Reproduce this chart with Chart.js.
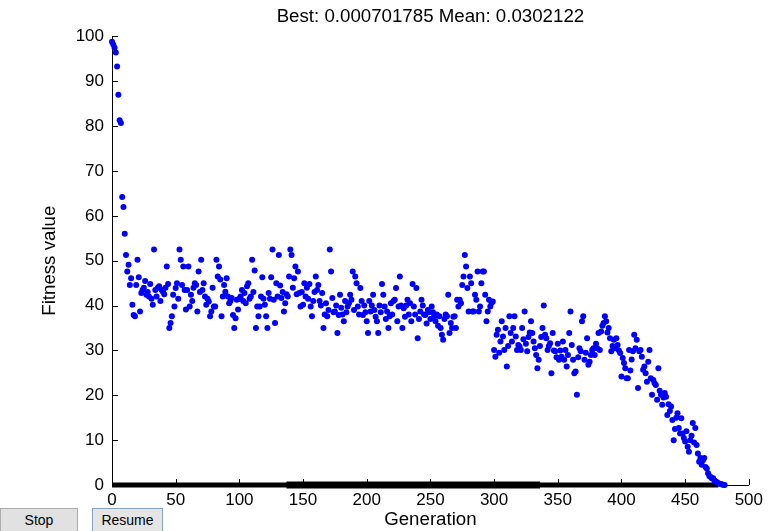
<!DOCTYPE html>
<html>
<head>
<meta charset="utf-8">
<title>GA fitness plot</title>
<script src="https://cdn.jsdelivr.net/npm/chart.js@4/dist/chart.umd.min.js"></script>
<style>
    html, body { margin: 0; padding: 0; background: #fff; }
    #wrap { position: relative; width: 768px; height: 531px; overflow: hidden; }
    #plot { position: absolute; left: 0; top: 0; }
    .btn {
        position: absolute;
        top: 508px;
        height: 26px;
        font: 14px "Liberation Sans", Arial, sans-serif;
        color: #000;
        background: #e1e1e1;
        border: 1px solid #adadad;
        box-sizing: border-box;
        text-align: center;
        line-height: 23px;
    }
    #btn-stop { left: 0; width: 78px; }
    #btn-resume { left: 92px; width: 71px; background: #e5e5e5; border-color: #8aa2c2; }
</style>
</head>
<body>
<div id="wrap">
    <canvas id="plot" width="768" height="531"></canvas>
    <div class="btn" id="btn-stop">Stop</div>
    <div class="btn" id="btn-resume">Resume</div>
</div>
<script>
// Mean fitness per generation (blue dots), generation 0 .. 481
const meanFitness = [
    98.8, 98.2, 97.5, 96.4, 93.3, 87.0, 81.3, 80.7, 64.2, 62.0, 56.0, 51.3, 47.6, 49.1,
    44.6, 46.1, 40.2, 37.9, 37.6, 44.6,
    50.2, 46.3, 38.7, 42.8, 43.5, 44.0, 45.5, 42.4, 43.0, 42.0,
    44.8, 41.5, 40.2, 52.5, 43.5, 42.0, 44.0, 44.3, 41.0, 43.5,
    43.1, 42.5, 44.0, 48.7, 44.8, 35.0, 36.1, 37.6, 42.4, 39.8,
    43.9, 45.0, 41.5, 52.5, 50.2, 44.6, 48.7, 43.5, 39.1, 43.5,
    48.7, 39.8, 42.4, 41.0, 44.0, 45.0, 44.6, 38.7, 47.6, 43.0,
    50.2, 43.5, 45.0, 42.0, 40.2, 41.5, 40.9, 37.6, 38.7, 44.0,
    39.8, 39.8, 50.2, 46.5, 48.7, 45.8, 37.6, 42.0, 44.6, 43.1,
    46.1, 42.0, 40.5, 41.0, 41.7, 37.9, 35.0, 37.2, 41.3, 39.1,
    41.5, 42.0, 43.5, 41.0, 42.8, 40.5, 44.3, 45.0, 41.5, 42.0,
    50.2, 43.0, 47.8, 35.0, 39.8, 37.6, 39.8, 42.0, 46.3, 41.5,
    40.2, 37.6, 35.0, 42.8, 41.5, 46.3, 52.5, 41.3, 36.1, 45.0,
    42.0, 51.3, 44.5, 41.7, 43.0, 38.7, 40.5, 42.5, 42.0, 46.5,
    52.5, 51.3, 44.0, 46.1, 48.7, 42.5, 47.6, 42.8, 39.8, 43.0,
    40.2, 45.0, 42.0, 44.0, 41.5, 44.8, 39.8, 37.6, 41.0, 43.0,
    46.5, 43.5, 44.6, 41.0, 40.0, 42.8, 35.0, 38.0, 40.5, 37.6,
    39.0, 52.5, 47.6, 41.7, 38.5, 38.7, 40.0, 33.9, 37.9, 42.4,
    39.5, 38.0, 36.5, 41.0, 38.5, 39.8, 40.5, 42.4, 41.3, 47.6,
    39.0, 46.5, 45.0, 39.8, 38.0, 43.9, 41.0, 37.9, 40.0, 38.5,
    36.5, 33.9, 41.0, 38.7, 40.0, 42.4, 39.0, 37.5, 36.5, 33.9,
    40.0, 38.5, 44.8, 42.4, 39.8, 37.0, 38.7, 35.0, 37.6, 40.5,
    38.0, 41.0, 41.3, 43.9, 36.5, 39.8, 46.5, 40.0, 35.0, 39.4,
    37.5, 40.0, 41.3, 38.0, 40.5, 36.5, 44.8, 39.8, 38.0, 43.9,
    32.7, 37.0, 38.7, 41.3, 40.0, 38.0, 37.9, 36.0, 39.0, 38.5,
    37.0, 39.8, 38.5, 37.6, 36.5, 38.0, 35.5, 37.6, 35.0, 33.5,
    32.4, 37.0, 38.0, 37.6, 42.4, 33.9, 36.1, 35.0, 37.5, 37.6,
    35.0, 41.3, 39.8, 41.3, 40.5, 44.6, 46.5, 51.3, 48.7, 43.9,
    38.7, 46.5, 45.0, 38.7, 38.7, 42.4, 41.3, 47.6, 38.7, 39.8,
    45.0, 47.6, 47.6, 42.4, 36.5, 38.7, 41.3, 39.8, 40.6, 40.9,
    30.1, 28.6, 33.5, 34.6, 29.5, 32.0, 36.5, 33.1, 30.1, 35.0,
    26.4, 31.0, 37.6, 33.9, 32.0, 35.0, 37.6, 33.1, 30.1, 31.2,
    30.9, 30.1, 35.0, 32.5, 38.7, 31.5, 29.8, 33.0, 34.0, 36.5,
    33.9, 32.0, 30.5, 29.0, 26.0, 27.9, 31.0, 33.0, 35.0, 40.0,
    33.5, 32.7, 30.1, 31.0, 31.6, 24.9, 33.9, 30.0, 29.8, 28.5,
    31.5, 27.9, 30.0, 28.6, 32.0, 27.9, 30.1, 26.4, 29.0, 33.9,
    38.7, 31.2, 27.9, 24.9, 25.3, 20.1, 28.5, 30.5, 29.8, 36.5,
    37.6, 27.9, 29.5, 32.7, 26.8, 27.5, 29.0, 30.1, 30.5, 29.0,
    31.5, 30.5, 33.9, 30.1, 34.2, 35.5, 36.1, 37.6, 36.5, 34.0,
    35.0, 32.7, 29.8, 31.0, 32.4, 30.5, 32.7, 31.2, 30.0, 29.4,
    24.2, 28.3, 27.2, 26.0, 23.8, 23.8, 30.1, 25.5, 28.0, 29.8,
    33.5, 30.5, 32.4, 21.6, 29.8, 30.1, 28.6, 25.7, 26.4, 24.9,
    23.0, 27.5, 30.1, 23.8, 20.1, 23.4, 22.7, 22.3, 19.0, 26.0,
    21.0, 20.1, 17.9, 19.5, 20.5, 19.7, 15.6, 18.0, 16.5, 17.5,
    14.5, 10.0, 12.5, 15.0, 16.0, 12.7, 11.5, 14.9, 11.5, 10.5,
    9.7, 12.0, 8.5, 7.4, 10.0, 11.0, 13.8, 9.5, 12.7, 8.9,
    7.0, 5.2, 6.0, 4.5, 5.5, 6.0, 4.0, 3.7, 2.6, 2.0,
    1.8, 1.5, 1.5, 1.0, 0.8, 0.6, 0.4, 0.3, 0.2, 0.1,
    0.05, 0.0
];

// Best fitness sits on zero; the trace is heavier between these generations
const bestRange = [0, 476];
const bestHeavyRange = [137, 336];
const bestValue = 0;

const titleText = 'Best: 0.000701785 Mean: 0.0302122';
const xTicks = [0, 50, 100, 150, 200, 250, 300, 350, 400, 450, 500];
const yTicks = [0, 10, 20, 30, 40, 50, 60, 70, 80, 90, 100];

const FONT = '"Liberation Sans", Arial, sans-serif';

// MATLAB style tick marks that point into the plot
const inwardTicks = {
    id: 'inwardTicks',
    afterDraw(chart) {
        const { ctx, chartArea, scales } = chart;
        ctx.save();
        ctx.strokeStyle = '#000';
        ctx.lineWidth = 1;
        ctx.beginPath();
        yTicks.forEach(v => {
            const y = Math.round(scales.y.getPixelForValue(v)) + 0.5;
            ctx.moveTo(chartArea.left, y);
            ctx.lineTo(chartArea.left + 6, y);
        });
        xTicks.forEach(v => {
            const x = Math.round(scales.x.getPixelForValue(v)) + 0.5;
            ctx.moveTo(x, chartArea.bottom);
            ctx.lineTo(x, chartArea.bottom - 6);
        });
        ctx.stroke();
        ctx.restore();
    }
};

const chart = new Chart(document.getElementById('plot'), {
    type: 'scatter',
    data: {
        datasets: [
            {
                label: 'Mean fitness',
                data: meanFitness.map((v, i) => ({ x: i, y: v })),
                backgroundColor: '#0000ff',
                borderColor: '#0000ff',
                pointRadius: 3,
                pointBorderWidth: 0,
                clip: false,
                order: 0
            },
            {
                label: 'Best fitness',
                type: 'line',
                data: bestRange.map(g => ({ x: g, y: bestValue })),
                borderColor: '#000',
                borderWidth: 5,
                pointRadius: 0,
                clip: false,
                order: 2
            },
            {
                label: 'Best fitness (heavy)',
                type: 'line',
                data: bestHeavyRange.map(g => ({ x: g, y: bestValue })),
                borderColor: '#000',
                borderWidth: 7,
                pointRadius: 0,
                clip: false,
                order: 1
            }
        ]
    },
    options: {
        responsive: false,
        animation: false,
        layout: {
            autoPadding: false,
            padding: { left: 0, right: 11, top: 0, bottom: 0 }
        },
        plugins: {
            legend: { display: false },
            tooltip: { enabled: false },
            title: {
                display: true,
                fullSize: false,
                text: titleText,
                color: '#000',
                font: { family: FONT, size: 18.7, weight: 'normal' },
                padding: { top: 6, bottom: 8 }
            }
        },
        scales: {
            x: {
                type: 'linear',
                min: 0,
                max: 500,
                afterFit(scale) { scale.height = 46; },
                afterBuildTicks(scale) { scale.ticks = xTicks.map(v => ({ value: v })); },
                grid: { display: false, drawTicks: false },
                border: { display: true, color: '#000', width: 1 },
                ticks: {
                    color: '#000',
                    padding: 5,
                    maxRotation: 0,
                    autoSkip: false,
                    font: { family: FONT, size: 17 }
                },
                title: {
                    display: true,
                    text: 'Generation',
                    color: '#000',
                    font: { family: FONT, size: 18.7 },
                    padding: { top: 0, bottom: 0 }
                }
            },
            y: {
                type: 'linear',
                min: 0,
                max: 100,
                afterFit(scale) { scale.width = 112; },
                afterBuildTicks(scale) { scale.ticks = yTicks.map(v => ({ value: v })); },
                grid: { display: false, drawTicks: false },
                border: { display: true, color: '#000', width: 1 },
                ticks: {
                    color: '#000',
                    padding: 8,
                    autoSkip: false,
                    font: { family: FONT, size: 17 }
                },
                title: {
                    display: true,
                    text: 'Fitness value',
                    color: '#000',
                    font: { family: FONT, size: 18.7 },
                    padding: { top: 39, bottom: 0 }
                }
            }
        }
    },
    plugins: [inwardTicks]
});
</script>
</body>
</html>
